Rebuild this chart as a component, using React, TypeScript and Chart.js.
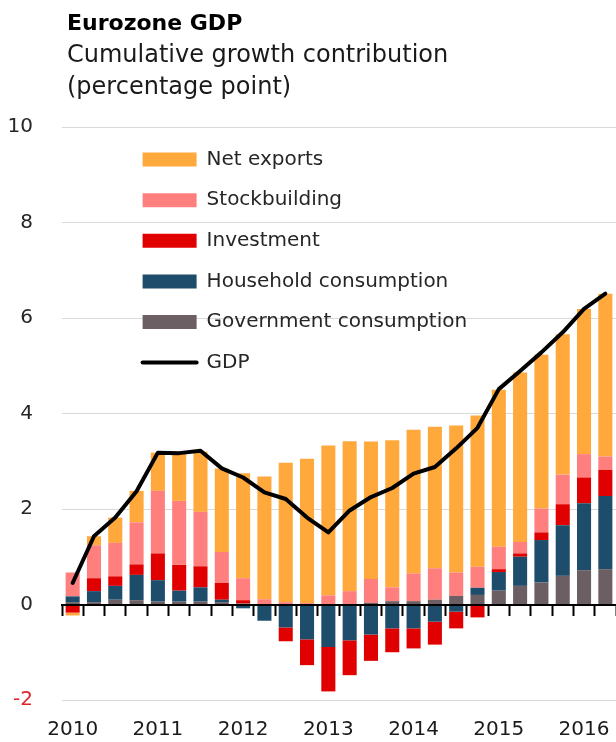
import React, { useEffect, useRef } from 'react';
import { Chart, registerables } from 'chart.js';

Chart.register(...registerables);

const QUARTERS = [
  '2010Q1', '2010Q2', '2010Q3', '2010Q4',
  '2011Q1', '2011Q2', '2011Q3', '2011Q4',
  '2012Q1', '2012Q2', '2012Q3', '2012Q4',
  '2013Q1', '2013Q2', '2013Q3', '2013Q4',
  '2014Q1', '2014Q2', '2014Q3', '2014Q4',
  '2015Q1', '2015Q2', '2015Q3', '2015Q4',
  '2016Q1', '2016Q2',
];

const GOVERNMENT = [0.05, 0.05, 0.10, 0.09, 0.06, 0.06, 0.06, 0.05, 0.02, 0.00, 0.00, 0.00, 0.00, 0.00, 0.035, 0.07, 0.07, 0.10, 0.18, 0.20, 0.29, 0.39, 0.46, 0.60, 0.72, 0.74];
const HOUSEHOLD = [0.12, 0.23, 0.29, 0.53, 0.45, 0.23, 0.30, 0.05, -0.08, -0.34, -0.48, -0.73, -0.89, -0.75, -0.63, -0.50, -0.50, -0.36, -0.15, 0.15, 0.39, 0.61, 0.89, 1.06, 1.40, 1.53];
const INVESTMENT = [-0.17, 0.27, 0.20, 0.22, 0.56, 0.54, 0.44, 0.35, 0.07, 0.00, -0.29, -0.54, -0.93, -0.73, -0.55, -0.50, -0.42, -0.48, -0.35, -0.27, 0.06, 0.07, 0.16, 0.44, 0.54, 0.55];
const STOCKBUILDING = [0.50, 0.69, 0.70, 0.88, 1.31, 1.34, 1.14, 0.65, 0.46, 0.11, 0.05, 0.03, 0.19, 0.28, 0.50, 0.29, 0.58, 0.66, 0.49, 0.44, 0.47, 0.24, 0.50, 0.62, 0.49, 0.28];
const NET_EXPORTS = [-0.06, 0.19, 0.53, 0.66, 0.80, 0.98, 1.26, 1.75, 2.20, 2.57, 2.92, 3.02, 3.14, 3.14, 2.88, 3.08, 3.01, 2.96, 3.08, 3.17, 3.29, 3.55, 3.22, 2.94, 3.04, 3.41];
const GDP = [0.45, 1.43, 1.82, 2.37, 3.18, 3.17, 3.22, 2.85, 2.66, 2.35, 2.21, 1.82, 1.51, 1.97, 2.25, 2.44, 2.74, 2.88, 3.27, 3.70, 4.51, 4.89, 5.28, 5.70, 6.19, 6.51];

const LEGEND_ORDER = ['Net exports', 'Stockbuilding', 'Investment', 'Household consumption', 'Government consumption', 'GDP'];

const FONT = "'DejaVu Sans', sans-serif";
const TEXT_DARK = '#262626';
const RED_LABEL = '#e2222b';

const legendShift = {
  id: 'legendShift',
  afterLayout(chart: any) {
    const lg = chart.legend;
    const area = chart.chartArea;
    if (lg && area) {
      lg.left = area.left + 60;
      lg.right = lg.left + lg.width;
      lg.top = area.top + 2;
      lg.bottom = lg.top + lg.height;
    }
  },
};

function EurozoneChart() {
  const canvasRef = useRef<HTMLCanvasElement | null>(null);

  useEffect(() => {
    if (!canvasRef.current) return;
    const barBase = { type: 'bar' as const, order: 1, borderWidth: 0, stack: 'contrib', xAxisID: 'x', yAxisID: 'y' };
    const chart = new Chart(canvasRef.current, {
      type: 'bar',
      data: {
        labels: QUARTERS,
        datasets: [
          { ...barBase, label: 'Government consumption', data: GOVERNMENT, backgroundColor: '#6b5f64' },
          { ...barBase, label: 'Household consumption', data: HOUSEHOLD, backgroundColor: '#1e4d6b' },
          { ...barBase, label: 'Investment', data: INVESTMENT, backgroundColor: '#e00000' },
          { ...barBase, label: 'Stockbuilding', data: STOCKBUILDING, backgroundColor: '#ff7f7f' },
          { ...barBase, label: 'Net exports', data: NET_EXPORTS, backgroundColor: '#ffa83c' },
          {
            type: 'line' as const,
            label: 'GDP',
            data: GDP,
            order: 0,
            stack: 'gdp',
            borderColor: '#000000',
            backgroundColor: '#000000',
            borderWidth: 4,
            pointRadius: 0,
            tension: 0,
            borderJoinStyle: 'round',
            borderCapStyle: 'round',
            xAxisID: 'x',
            yAxisID: 'y',
          } as any,
        ],
      },
      options: {
        responsive: false,
        animation: false,
        layout: { padding: { top: 127, left: 0, right: 0, bottom: 0 } },
        datasets: {
          bar: { categoryPercentage: 1, barPercentage: 0.66 },
        },
        plugins: {
          title: { display: false },
          tooltip: { enabled: false },
          legend: {
            display: true,
            position: 'chartArea',
            align: 'start',
            labels: {
              usePointStyle: true,
              pointStyleWidth: 54,
              boxHeight: 14,
              padding: 20.6,
              color: TEXT_DARK,
              font: { family: FONT, size: 20 },
              generateLabels: (c: any) => {
                const items = Chart.defaults.plugins.legend.labels.generateLabels(c);
                return items
                  .map((it: any) =>
                    it.text === 'GDP'
                      ? { ...it, pointStyle: 'line', lineWidth: 4, strokeStyle: '#000000', lineCap: 'round' }
                      : { ...it, pointStyle: 'rect', lineWidth: 0 }
                  )
                  .sort((a: any, b: any) => LEGEND_ORDER.indexOf(a.text) - LEGEND_ORDER.indexOf(b.text));
              },
            },
          },
        },
        scales: {
          x: {
            type: 'category',
            position: 'bottom',
            stacked: true,
            offset: true,
            grid: { display: false },
            border: { display: false },
            ticks: {
              autoSkip: false,
              maxRotation: 0,
              minRotation: 0,
              padding: 10,
              color: '#1a1a1a',
              font: { family: FONT, size: 20 },
              callback: (_v: any, i: number) => (QUARTERS[i].endsWith('Q1') ? QUARTERS[i].slice(0, 4) : ''),
            },
            afterFit: (scale: any) => {
              scale.height = 42;
            },
          },
          xZero: {
            type: 'category',
            axis: 'x',
            position: { y: 0 },
            offset: true,
            z: 1,
            grid: {
              display: true,
              drawOnChartArea: false,
              drawTicks: true,
              tickLength: 10,
              tickWidth: 2,
              tickColor: '#000000',
              offset: true,
              z: 1,
            },
            border: { display: true, color: '#000000', width: 2, z: 1 },
            ticks: { display: false, autoSkip: false },
          } as any,
          y: {
            type: 'linear',
            stacked: true,
            min: -2,
            max: 10,
            grid: {
              color: (ctx: any) => (ctx.tick && ctx.tick.value === 0 ? 'rgba(0,0,0,0)' : '#d9d9d9'),
              lineWidth: 1,
              drawTicks: false,
            },
            border: { display: false },
            ticks: {
              stepSize: 2,
              padding: 29,
              color: (ctx: any) => (ctx.tick && ctx.tick.value === -2 ? RED_LABEL : TEXT_DARK),
              font: { family: FONT, size: 20 },
            },
            afterFit: (scale: any) => {
              scale.width = 62;
            },
          },
        },
      } as any,
      plugins: [legendShift],
    });
    return () => chart.destroy();
  }, []);

  return <canvas ref={canvasRef} width={616} height={742} style={{ display: 'block', width: 616, height: 742 }} />;
}

export default function App() {
  return (
    <div style={{ position: 'absolute', left: 0, top: 0, width: 616, height: 742, background: '#ffffff', overflow: 'hidden' }}>
      <EurozoneChart />
      <div
        style={{
          position: 'absolute',
          left: 67,
          top: 10,
          fontFamily: FONT,
          fontWeight: 'bold',
          fontSize: 22,
          color: '#000000',
          whiteSpace: 'nowrap',
        }}
      >
        Eurozone GDP
      </div>
      <div
        style={{
          position: 'absolute',
          left: 67,
          top: 38,
          fontFamily: FONT,
          fontSize: 24,
          lineHeight: '32px',
          color: '#1a1a1a',
          whiteSpace: 'nowrap',
        }}
      >
        <div>Cumulative growth contribution</div>
        <div>(percentage point)</div>
      </div>
    </div>
  );
}
